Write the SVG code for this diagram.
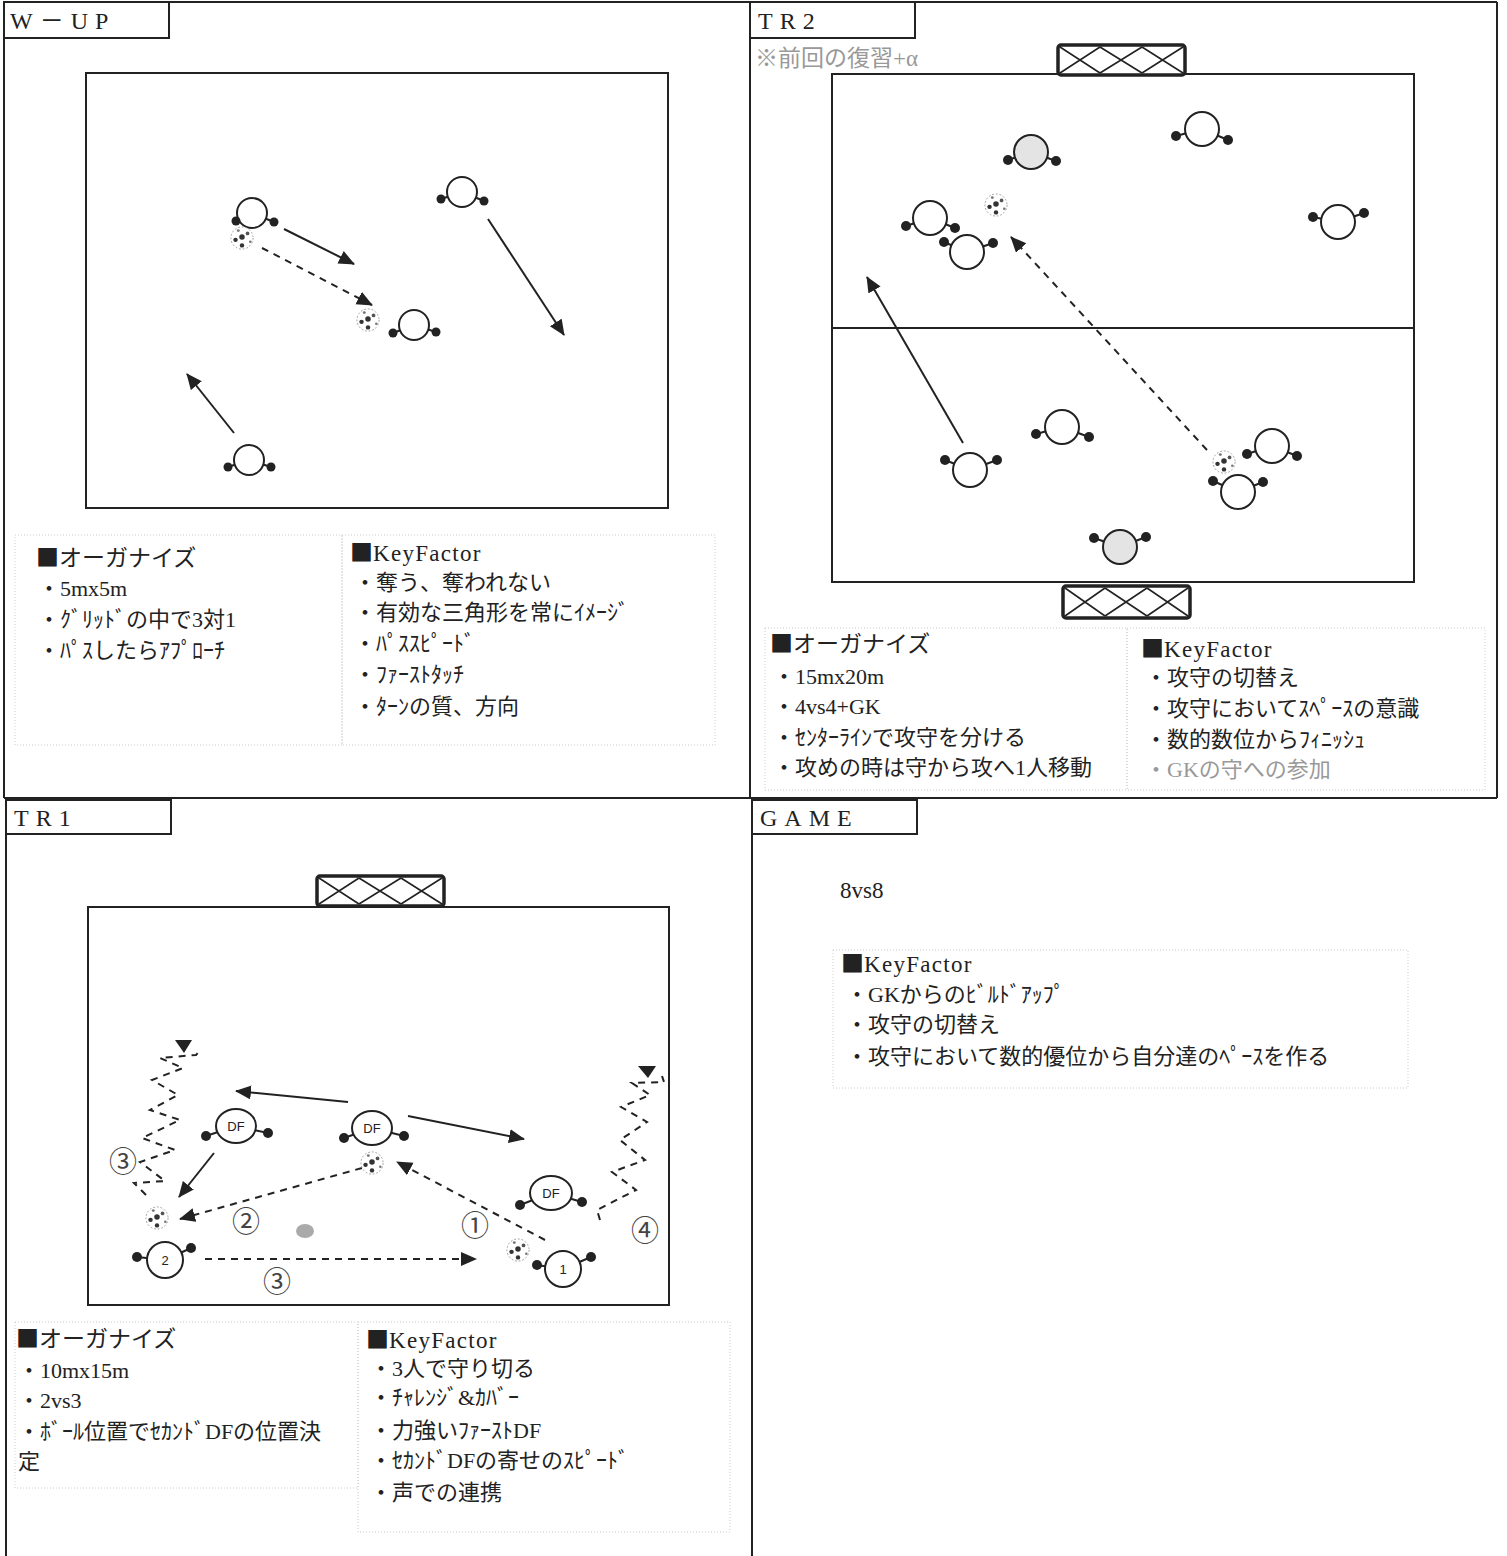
<svg xmlns="http://www.w3.org/2000/svg" width="1507" height="1556" viewBox="0 0 1507 1556">
<style>
.frame{fill:none;stroke:#222;stroke-width:2}
.field{fill:none;stroke:#222;stroke-width:2}
.goal{fill:#fff;stroke:#222;stroke-width:3.5}
.gx{stroke:#222;stroke-width:1.6}
.t{font-family:"Liberation Serif","Noto Sans CJK JP",serif;fill:#222}
.sq{font-family:"Noto Sans CJK JP",sans-serif;fill:#222}
.ttl{font-size:24px;letter-spacing:7px}
.h{font-size:23px}
.i{font-size:22px}
.kf{letter-spacing:1.3px}
.gray{fill:#999}
.box{fill:none;stroke:#ccc;stroke-width:1;stroke-dasharray:1 2}
.arm{stroke:#222;stroke-width:2}
.body{fill:#fff;stroke:#222;stroke-width:2}
.bodyg{fill:#e4e4e4;stroke:#222;stroke-width:2}
.hand{fill:#222}
.sol{stroke:#222;stroke-width:2;fill:none}
.dash{stroke:#222;stroke-width:2;fill:none;stroke-dasharray:7 6}
.lbl{font-family:"Liberation Sans",Arial,sans-serif;font-size:13px;fill:#222;text-anchor:middle}
.num{font-family:"Noto Sans CJK JP","DejaVu Sans",sans-serif;font-size:28px;fill:#444;text-anchor:middle}
</style>
<defs>
<marker id="ah" markerUnits="userSpaceOnUse" markerWidth="18" markerHeight="16" refX="15" refY="7" orient="auto">
<path d="M0,0 L16,7 L0,14 z" fill="#222"/>
</marker>
<symbol id="ball" viewBox="-13 -13 26 26" overflow="visible">
<circle r="12" fill="#fff" stroke="#999" stroke-width="1" stroke-dasharray="2 2"/>
<circle cx="0" cy="-1" r="3" fill="#333"/>
<circle cx="-7" cy="2" r="2.4" fill="#333"/>
<circle cx="6" cy="-5" r="2" fill="#555"/>
<circle cx="0" cy="8" r="2.4" fill="#333"/>
<circle cx="-4" cy="-8" r="1.6" fill="#777"/>
<circle cx="9" cy="4" r="1.4" fill="#777"/>
</symbol>
</defs>

<!-- frame -->
<g id="frame">
<line class="frame" x1="4" y1="2" x2="1497" y2="2"/>
<line class="frame" x1="4" y1="2" x2="4" y2="798"/>
<line class="frame" x1="6" y1="798" x2="6" y2="1556"/>
<line class="frame" x1="750" y1="2" x2="750" y2="798"/>
<line class="frame" x1="752" y1="798" x2="752" y2="1556"/>
<line class="frame" x1="1497" y1="2" x2="1497" y2="798"/>
<line class="frame" x1="4" y1="798" x2="1497" y2="798"/>
<rect class="frame" x="4" y="2" width="165" height="36"/>
<rect class="frame" x="750" y="2" width="165" height="36"/>
<rect class="frame" x="6" y="800" width="165" height="34"/>
<rect class="frame" x="752" y="800" width="165" height="34"/>
</g>

<g id="titles">
<text class="t ttl" x="10" y="29">W－UP</text>
<text class="t ttl" x="758" y="29">TR2</text>
<text class="t ttl" x="14" y="826">TR1</text>
<text class="t ttl" x="760" y="826">GAME</text>
<text class="t h gray" x="755" y="66">※前回の復習+α</text>
</g>

<!-- fields & goals -->
<g id="fields">
<rect class="field" x="86" y="73" width="582" height="435"/>
<rect class="field" x="832" y="74" width="582" height="508"/>
<line class="field" x1="832" y1="328" x2="1414" y2="328"/>
<rect class="field" x="88" y="907" width="581" height="398"/>
</g>
<g id="goal-tr2-top">
<rect class="goal" x="1058" y="45" width="127" height="30" rx="3"/>
<path class="gx" d="M1060,47 L1100,73 M1100,47 L1060,73 M1100,47 L1142,73 M1142,47 L1100,73 M1142,47 L1183,73 M1183,47 L1142,73"/>
</g>
<g id="goal-tr2-bottom">
<rect class="goal" x="1063" y="586" width="127" height="32" rx="3"/>
<path class="gx" d="M1065,588 L1105,616 M1105,588 L1065,616 M1105,588 L1147,616 M1147,588 L1105,616 M1147,588 L1188,616 M1188,588 L1147,616"/>
</g>
<g id="goal-tr1">
<rect class="goal" x="317" y="876" width="127" height="30" rx="3"/>
<path class="gx" d="M319,878 L359,904 M359,878 L319,904 M359,878 L401,904 M401,878 L359,904 M401,878 L442,904 M442,878 L401,904"/>
</g>

<!-- connectors -->
<g id="connectors">
<line class="sol" x1="284" y1="229" x2="354" y2="264" marker-end="url(#ah)"/>
<line class="dash" x1="262" y1="248" x2="372" y2="305" marker-end="url(#ah)"/>
<line class="sol" x1="488" y1="219" x2="564" y2="335" marker-end="url(#ah)"/>
<line class="sol" x1="234" y1="433" x2="187" y2="374" marker-end="url(#ah)"/>

<line class="sol" x1="963" y1="443" x2="867" y2="277" marker-end="url(#ah)"/>
<line class="dash" x1="1207" y1="450" x2="1011" y2="237" marker-end="url(#ah)"/>

<line class="sol" x1="348" y1="1102" x2="236" y2="1091" marker-end="url(#ah)"/>
<line class="sol" x1="408" y1="1116" x2="524" y2="1139" marker-end="url(#ah)"/>
<line class="sol" x1="214" y1="1153" x2="179" y2="1197" marker-end="url(#ah)"/>
<line class="dash" x1="362" y1="1168" x2="180" y2="1219" marker-end="url(#ah)"/>
<line class="dash" x1="545" y1="1240" x2="397" y2="1162" marker-end="url(#ah)"/>
<line class="dash" x1="205" y1="1259" x2="476" y2="1259" marker-end="url(#ah)"/>

<polyline class="dash" stroke-dasharray="6 5" points="146,1195 134,1183 165,1181 140,1162 175,1150 142,1138 180,1120 150,1110 178,1095 152,1080 183,1068 160,1058 196,1055 200,1050"/>
<polygon points="175,1040 192,1040 184,1053" fill="#222"/>
<polyline class="dash" stroke-dasharray="6 5" points="600,1220 597,1210 636,1190 612,1172 645,1160 620,1140 647,1122 621,1107 650,1095 632,1083 664,1082 662,1076"/>
<polygon points="638,1066 656,1066 648,1078" fill="#222"/>
</g>

<!-- W-UP players -->
<g id="wup-p1"><line class="arm" x1="252" y1="213" x2="236" y2="221"/><line class="arm" x1="252" y1="213" x2="274" y2="222"/><circle class="body" cx="252" cy="213" r="15"/><circle class="hand" cx="236" cy="221" r="4.5"/><circle class="hand" cx="274" cy="222" r="4.5"/></g>
<g id="wup-p2"><line class="arm" x1="462" y1="192" x2="441" y2="199"/><line class="arm" x1="462" y1="192" x2="484" y2="201"/><circle class="body" cx="462" cy="192" r="15"/><circle class="hand" cx="441" cy="199" r="4.5"/><circle class="hand" cx="484" cy="201" r="4.5"/></g>
<g id="wup-p3"><line class="arm" x1="414" y1="325" x2="393" y2="333"/><line class="arm" x1="414" y1="325" x2="436" y2="332"/><circle class="body" cx="414" cy="325" r="15"/><circle class="hand" cx="393" cy="333" r="4.5"/><circle class="hand" cx="436" cy="332" r="4.5"/></g>
<g id="wup-p4"><line class="arm" x1="249" y1="460" x2="228" y2="467"/><line class="arm" x1="249" y1="460" x2="271" y2="467"/><circle class="body" cx="249" cy="460" r="15"/><circle class="hand" cx="228" cy="467" r="4.5"/><circle class="hand" cx="271" cy="467" r="4.5"/></g>
<g id="wup-balls"><use href="#ball" x="230" y="226" width="24" height="24"/><use href="#ball" x="356" y="308" width="24" height="24"/></g>

<!-- TR2 players -->
<g id="tr2-p1"><line class="arm" x1="1031" y1="152" x2="1008" y2="160"/><line class="arm" x1="1031" y1="152" x2="1056" y2="161"/><circle class="bodyg" cx="1031" cy="152" r="17"/><circle class="hand" cx="1008" cy="160" r="5"/><circle class="hand" cx="1056" cy="161" r="5"/></g>
<g id="tr2-p2"><line class="arm" x1="1202" y1="129" x2="1176" y2="136"/><line class="arm" x1="1202" y1="129" x2="1228" y2="140"/><circle class="body" cx="1202" cy="129" r="17"/><circle class="hand" cx="1176" cy="136" r="5"/><circle class="hand" cx="1228" cy="140" r="5"/></g>
<g id="tr2-p3"><line class="arm" x1="1338" y1="222" x2="1313" y2="217"/><line class="arm" x1="1338" y1="222" x2="1364" y2="213"/><circle class="body" cx="1338" cy="222" r="17"/><circle class="hand" cx="1313" cy="217" r="5"/><circle class="hand" cx="1364" cy="213" r="5"/></g>
<g id="tr2-p4"><line class="arm" x1="930" y1="218" x2="906" y2="226"/><line class="arm" x1="930" y1="218" x2="955" y2="228"/><circle class="body" cx="930" cy="218" r="17"/><circle class="hand" cx="906" cy="226" r="5"/><circle class="hand" cx="955" cy="228" r="5"/></g>
<g id="tr2-p5"><line class="arm" x1="967" y1="252" x2="944" y2="242"/><line class="arm" x1="967" y1="252" x2="993" y2="243"/><circle class="body" cx="967" cy="252" r="17"/><circle class="hand" cx="944" cy="242" r="5"/><circle class="hand" cx="993" cy="243" r="5"/></g>
<g id="tr2-p6"><line class="arm" x1="1062" y1="427" x2="1036" y2="434"/><line class="arm" x1="1062" y1="427" x2="1089" y2="437"/><circle class="body" cx="1062" cy="427" r="17"/><circle class="hand" cx="1036" cy="434" r="5"/><circle class="hand" cx="1089" cy="437" r="5"/></g>
<g id="tr2-p7"><line class="arm" x1="970" y1="470" x2="945" y2="460"/><line class="arm" x1="970" y1="470" x2="997" y2="460"/><circle class="body" cx="970" cy="470" r="17"/><circle class="hand" cx="945" cy="460" r="5"/><circle class="hand" cx="997" cy="460" r="5"/></g>
<g id="tr2-p8"><line class="arm" x1="1272" y1="446" x2="1247" y2="454"/><line class="arm" x1="1272" y1="446" x2="1297" y2="456"/><circle class="body" cx="1272" cy="446" r="17"/><circle class="hand" cx="1247" cy="454" r="5"/><circle class="hand" cx="1297" cy="456" r="5"/></g>
<g id="tr2-p9"><line class="arm" x1="1238" y1="492" x2="1213" y2="481"/><line class="arm" x1="1238" y1="492" x2="1263" y2="482"/><circle class="body" cx="1238" cy="492" r="17"/><circle class="hand" cx="1213" cy="481" r="5"/><circle class="hand" cx="1263" cy="482" r="5"/></g>
<g id="tr2-p10"><line class="arm" x1="1120" y1="547" x2="1094" y2="538"/><line class="arm" x1="1120" y1="547" x2="1146" y2="537"/><circle class="bodyg" cx="1120" cy="547" r="17"/><circle class="hand" cx="1094" cy="538" r="5"/><circle class="hand" cx="1146" cy="537" r="5"/></g>
<g id="tr2-balls"><use href="#ball" x="984" y="193" width="24" height="24"/><use href="#ball" x="1212" y="450" width="24" height="24"/></g>

<!-- TR1 players -->
<g id="tr1-df1"><line class="arm" x1="236" y1="1126" x2="206" y2="1136"/><line class="arm" x1="236" y1="1126" x2="268" y2="1133"/><ellipse class="body" cx="236" cy="1126" rx="20" ry="17"/><circle class="hand" cx="206" cy="1136" r="5"/><circle class="hand" cx="268" cy="1133" r="5"/><text class="lbl" x="236" y="1131">DF</text></g>
<g id="tr1-df2"><line class="arm" x1="372" y1="1128" x2="344" y2="1138"/><line class="arm" x1="372" y1="1128" x2="404" y2="1136"/><ellipse class="body" cx="372" cy="1128" rx="20" ry="17"/><circle class="hand" cx="344" cy="1138" r="5"/><circle class="hand" cx="404" cy="1136" r="5"/><text class="lbl" x="372" y="1133">DF</text></g>
<g id="tr1-df3"><line class="arm" x1="551" y1="1193" x2="520" y2="1205"/><line class="arm" x1="551" y1="1193" x2="582" y2="1202"/><ellipse class="body" cx="551" cy="1193" rx="21" ry="17"/><circle class="hand" cx="520" cy="1205" r="5"/><circle class="hand" cx="582" cy="1202" r="5"/><text class="lbl" x="551" y="1198">DF</text></g>
<g id="tr1-p2"><line class="arm" x1="165" y1="1260" x2="137" y2="1257"/><line class="arm" x1="165" y1="1260" x2="191" y2="1248"/><circle class="body" cx="165" cy="1260" r="18"/><circle class="hand" cx="137" cy="1257" r="5"/><circle class="hand" cx="191" cy="1248" r="5"/><text class="lbl" x="165" y="1265">2</text></g>
<g id="tr1-p1"><line class="arm" x1="563" y1="1269" x2="537" y2="1265"/><line class="arm" x1="563" y1="1269" x2="591" y2="1257"/><circle class="body" cx="563" cy="1269" r="18"/><circle class="hand" cx="537" cy="1265" r="5"/><circle class="hand" cx="591" cy="1257" r="5"/><text class="lbl" x="563" y="1274">1</text></g>
<g id="tr1-balls"><use href="#ball" x="360" y="1151" width="24" height="24"/><use href="#ball" x="145" y="1206" width="24" height="24"/><use href="#ball" x="506" y="1238" width="24" height="24"/>
<ellipse cx="305" cy="1231" rx="9" ry="7" fill="#aaa"/></g>
<g id="tr1-nums">
<text class="num" x="123" y="1172">③</text>
<text class="num" x="246" y="1232">②</text>
<text class="num" x="277" y="1292">③</text>
<text class="num" x="475" y="1236">①</text>
<text class="num" x="645" y="1241">④</text>
</g>

<!-- W-UP text -->
<g id="wup-text">
<rect class="box" x="15" y="535" width="327" height="210"/>
<rect class="box" x="342" y="535" width="373" height="210"/>
<text class="t h" x="36" y="566"><tspan class="sq">■</tspan>オーガナイズ</text>
<text class="t i" x="38" y="596">・5mx5m</text>
<text class="t i" x="38" y="627">・ｸﾞﾘｯﾄﾞの中で3対1</text>
<text class="t i" x="38" y="658">・ﾊﾟｽしたらｱﾌﾟﾛｰﾁ</text>
<text class="t h" x="350" y="561"><tspan class="sq">■</tspan><tspan class="kf">KeyFactor</tspan></text>
<text class="t i" x="354" y="590">・奪う、奪われない</text>
<text class="t i" x="354" y="620">・有効な三角形を常にｲﾒｰｼﾞ</text>
<text class="t i" x="354" y="651">・ﾊﾟｽｽﾋﾟｰﾄﾞ</text>
<text class="t i" x="354" y="682">・ﾌｧｰｽﾄﾀｯﾁ</text>
<text class="t i" x="354" y="714">・ﾀｰﾝの質、方向</text>
</g>

<!-- TR2 text -->
<g id="tr2-text">
<rect class="box" x="765" y="628" width="362" height="162"/>
<rect class="box" x="1127" y="628" width="358" height="162"/>
<text class="t h" x="770" y="652"><tspan class="sq">■</tspan>オーガナイズ</text>
<text class="t i" x="773" y="684">・15mx20m</text>
<text class="t i" x="773" y="714">・4vs4+GK</text>
<text class="t i" x="773" y="745">・ｾﾝﾀｰﾗｲﾝで攻守を分ける</text>
<text class="t i" x="773" y="775">・攻めの時は守から攻へ1人移動</text>
<text class="t h" x="1141" y="657"><tspan class="sq">■</tspan><tspan class="kf">KeyFactor</tspan></text>
<text class="t i" x="1145" y="685">・攻守の切替え</text>
<text class="t i" x="1145" y="716">・攻守においてｽﾍﾟｰｽの意識</text>
<text class="t i" x="1145" y="747">・数的数位からﾌｨﾆｯｼｭ</text>
<text class="t i gray" x="1145" y="777" fill="#aaa">・GKの守への参加</text>
</g>

<!-- TR1 text -->
<g id="tr1-text">
<rect class="box" x="15" y="1322" width="343" height="166"/>
<rect class="box" x="358" y="1322" width="372" height="210"/>
<text class="t h" x="16" y="1347"><tspan class="sq" fill="#666">■</tspan>オーガナイズ</text>
<text class="t i" x="18" y="1378">・10mx15m</text>
<text class="t i" x="18" y="1408">・2vs3</text>
<text class="t i" x="18" y="1439">・ﾎﾞｰﾙ位置でｾｶﾝﾄﾞDFの位置決</text>
<text class="t i" x="18" y="1469">定</text>
<text class="t h" x="366" y="1348"><tspan class="sq">■</tspan><tspan class="kf">KeyFactor</tspan></text>
<text class="t i" x="370" y="1376">・3人で守り切る</text>
<text class="t i" x="370" y="1405">・ﾁｬﾚﾝｼﾞ&amp;ｶﾊﾞｰ</text>
<text class="t i" x="370" y="1438">・力強いﾌｧｰｽﾄDF</text>
<text class="t i" x="370" y="1468">・ｾｶﾝﾄﾞDFの寄せのｽﾋﾟｰﾄﾞ</text>
<text class="t i" x="370" y="1500">・声での連携</text>
</g>

<!-- GAME text -->
<g id="game-text">
<text class="t h" x="840" y="898">8vs8</text>
<rect class="box" x="833" y="950" width="575" height="138"/>
<text class="t h" x="841" y="972"><tspan class="sq">■</tspan><tspan class="kf">KeyFactor</tspan></text>
<text class="t i" x="846" y="1002">・GKからのﾋﾞﾙﾄﾞｱｯﾌﾟ</text>
<text class="t i" x="846" y="1032">・攻守の切替え</text>
<text class="t i" x="846" y="1064">・攻守において数的優位から自分達のﾍﾟｰｽを作る</text>
</g>
</svg>
